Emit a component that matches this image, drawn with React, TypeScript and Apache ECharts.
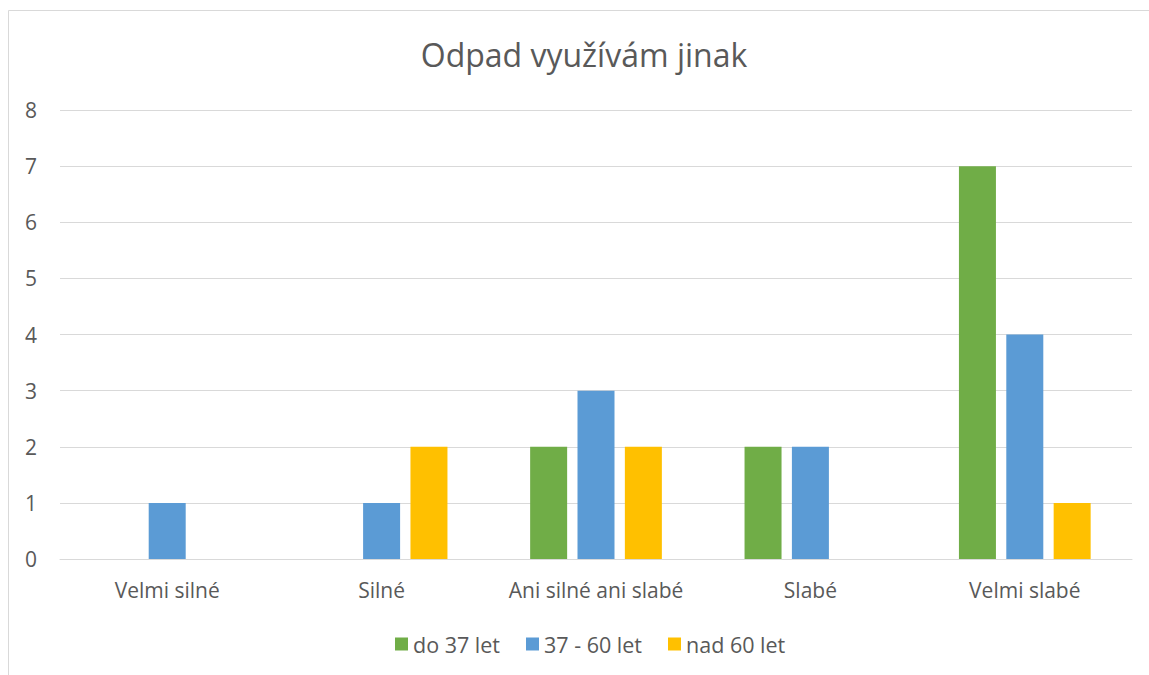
import React, { useEffect, useRef } from "react";
import * as echarts from "echarts";

const categories = ["Velmi silné", "Silné", "Ani silné ani slabé", "Slabé", "Velmi slabé"];
const seriesNames = ["do 37 let", "37 - 60 let", "nad 60 let"];
const do37 = [0, 0, 2, 2, 7];
const s37to60 = [1, 1, 3, 2, 4];
const nad60 = [0, 2, 2, 0, 1];
const colors = ["#70AD47", "#5B9BD5", "#FFC000"];
const yTicks = [0, 1, 2, 3, 4, 5, 6, 7, 8];

const FONT = "'Open Sans', sans-serif";

export default function App() {
  const ref = useRef<HTMLDivElement>(null);
  useEffect(() => {
    if (!ref.current) return;
    const chart = echarts.init(ref.current, undefined, { renderer: "svg" });
    const values = [do37, s37to60, nad60];
    chart.setOption({
      animation: false,
      backgroundColor: "#ffffff",
      textStyle: { fontFamily: FONT },
      title: {
        text: "Odpad využívám jinak",
        left: 579,
        top: 33,
        textAlign: "center",
        textStyle: { fontFamily: FONT, fontSize: 32, fontWeight: "normal", color: "#595959" },
      },
      graphic: [
        {
          type: "rect",
          shape: { x: 8.5, y: 10.5, width: 1160, height: 700 },
          style: { fill: "none", stroke: "#d9d9d9", lineWidth: 1 },
          silent: true,
        },
      ],
      legend: {
        data: seriesNames,
        left: 390,
        top: 628,
        icon: "rect",
        itemWidth: 13,
        itemHeight: 13,
        itemGap: 26,
        textStyle: { fontFamily: FONT, fontSize: 21.5, color: "#595959" },
      },
      grid: { left: 60, right: 17, top: 110, bottom: 116, containLabel: false },
      xAxis: {
        type: "category",
        data: categories,
        axisLine: { show: true, lineStyle: { color: "#d9d9d9", width: 1 } },
        axisTick: { show: false },
        axisLabel: { fontFamily: FONT, fontSize: 21, color: "#595959", margin: 20, interval: 0 },
      },
      yAxis: {
        type: "value",
        min: yTicks[0],
        max: yTicks[yTicks.length - 1],
        interval: 1,
        axisLine: { show: false },
        axisTick: { show: false },
        splitLine: { lineStyle: { color: "#d9d9d9", width: 1 } },
        axisLabel: { fontFamily: FONT, fontSize: 21, color: "#595959", margin: 23 },
      },
      series: seriesNames.map((name, i) => ({
        name,
        type: "bar",
        data: values[i],
        barWidth: 37,
        barGap: "28%",
        itemStyle: { color: colors[i] },
      })),
    });
    return () => chart.dispose();
  }, []);
  return (
    <div
      ref={ref}
      style={{ position: "fixed", left: 0, top: 0, width: 1149, height: 675 }}
    />
  );
}
